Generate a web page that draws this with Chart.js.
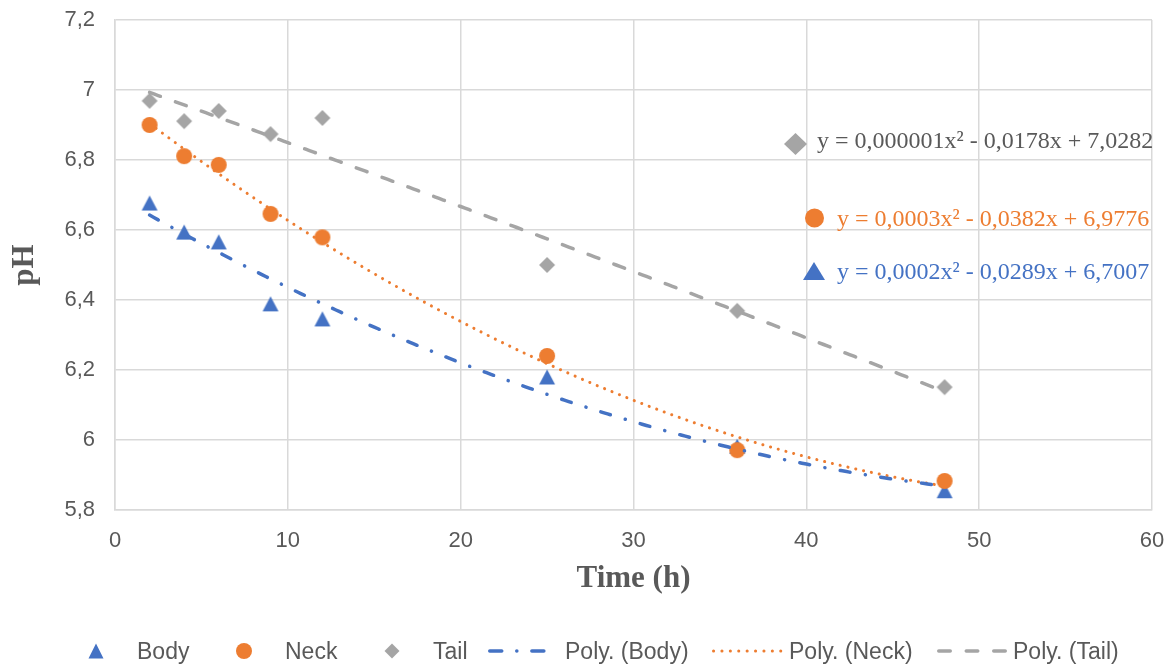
<!DOCTYPE html>
<html>
<head>
<meta charset="utf-8">
<script src="https://cdn.jsdelivr.net/npm/chart.js@4.4.1/dist/chart.umd.min.js"></script>
<style>
  html, body { margin: 0; padding: 0; background: #ffffff; }
  #wrap { width: 1172px; height: 668px; position: relative; }
</style>
</head>
<body>
<div id="wrap"><canvas id="chart" width="1172" height="668"></canvas></div>
<script>
// Sampling times (hours) and measured pH for each body region
const timeH  = [2, 4, 6, 9, 12, 25, 36, 48];
const phBody = [6.677, 6.594, 6.566, 6.389, 6.346, 6.180, 5.982, 5.855];
const phNeck = [6.900, 6.811, 6.786, 6.646, 6.579, 6.240, 5.971, 5.883];
const phTail = [6.969, 6.911, 6.940, 6.874, 6.920, 6.500, 6.369, 6.151];

const seriesNames = ['Body', 'Neck', 'Tail'];
const trendNames = ['Poly. (Body)', 'Poly. (Neck)', 'Poly. (Tail)'];
const equationTexts = [
  'y = 0,000001x\u00B2 - 0,0178x + 7,0282',
  'y = 0,0003x\u00B2 - 0,0382x + 6,9776',
  'y = 0,0002x\u00B2 - 0,0289x + 6,7007'
];
const xTickLabels = ['0', '10', '20', '30', '40', '50', '60'];
const yTickLabels = ['5,8', '6', '6,2', '6,4', '6,6', '6,8', '7', '7,2'];

const BLUE = '#4472C4', ORANGE = '#ED7D31', GRAY = '#A5A5A5';
const TEXT = '#595959', GRID = '#D9D9D9';
const SANS = '"Liberation Sans", Arial, sans-serif';
const SERIF = '"Liberation Serif", "Times New Roman", serif';

// Least-squares quadratic fit y = a x^2 + b x + c
function polyfit2(xs, ys) {
  let s0 = 0, s1 = 0, s2 = 0, s3 = 0, s4 = 0, t0 = 0, t1 = 0, t2 = 0;
  for (let i = 0; i < xs.length; i++) {
    const x = xs[i], y = ys[i], x2 = x * x;
    s0 += 1; s1 += x; s2 += x2; s3 += x2 * x; s4 += x2 * x2;
    t0 += y; t1 += x * y; t2 += x2 * y;
  }
  const M = [[s4, s3, s2, t2], [s3, s2, s1, t1], [s2, s1, s0, t0]];
  for (let k = 0; k < 3; k++) {
    for (let r = k + 1; r < 3; r++) {
      const f = M[r][k] / M[k][k];
      for (let c = k; c < 4; c++) M[r][c] -= f * M[k][c];
    }
  }
  const sol = [0, 0, 0];
  for (let r = 2; r >= 0; r--) {
    let v = M[r][3];
    for (let c = r + 1; c < 3; c++) v -= M[r][c] * sol[c];
    sol[r] = v / M[r][r];
  }
  return sol;
}

function trendPoints(xs, ys) {
  const [a, b, c] = polyfit2(xs, ys);
  const pts = [];
  const x0 = xs[0], x1 = xs[xs.length - 1];
  for (let x = x0; x <= x1 + 1e-9; x += 0.25) pts.push({ x: x, y: a * x * x + b * x + c });
  return pts;
}

function toPoints(xs, ys) { return xs.map((x, i) => ({ x: x, y: ys[i] })); }

function drawMarker(ctx, kind, cx, cy, w, h, color) {
  ctx.save();
  ctx.fillStyle = color;
  ctx.beginPath();
  if (kind === 'triangle') {
    ctx.moveTo(cx, cy - h / 2);
    ctx.lineTo(cx + w / 2, cy + h / 2);
    ctx.lineTo(cx - w / 2, cy + h / 2);
    ctx.closePath();
  } else if (kind === 'circle') {
    ctx.ellipse(cx, cy, w / 2, h / 2, 0, 0, Math.PI * 2);
  } else {
    ctx.moveTo(cx, cy - h / 2);
    ctx.lineTo(cx + w / 2, cy);
    ctx.lineTo(cx, cy + h / 2);
    ctx.lineTo(cx - w / 2, cy);
    ctx.closePath();
  }
  ctx.fill();
  ctx.restore();
}

function markerImage(kind, w, h, color) {
  const c = document.createElement('canvas');
  c.width = Math.ceil(w) + 2;
  c.height = Math.ceil(h) + 2;
  drawMarker(c.getContext('2d'), kind, c.width / 2, c.height / 2, w, h, color);
  return c;
}

const dashBody = [10, 15.5, 0.1, 15.5];
const dashNeck = [0.1, 7.9];
const dashTail = [11.5, 16];

// Legend row and trendline equation labels drawn on the canvas
const overlayPlugin = {
  id: 'overlay',
  afterDraw(chart) {
    const ctx = chart.ctx;
    const ly = 651;
    ctx.save();
    // legend
    drawMarker(ctx, 'triangle', 96, ly, 15, 15, BLUE);
    drawMarker(ctx, 'circle', 244, ly, 16, 16, ORANGE);
    drawMarker(ctx, 'diamond', 392, ly, 15, 15, GRAY);
    const sampleLine = (x0, x1, color, dash, width) => {
      ctx.save();
      ctx.strokeStyle = color;
      ctx.lineWidth = width;
      ctx.lineCap = 'round';
      ctx.setLineDash(dash);
      ctx.beginPath();
      ctx.moveTo(x0, ly);
      ctx.lineTo(x1, ly);
      ctx.stroke();
      ctx.restore();
    };
    sampleLine(489.75, 546.25, BLUE, [12, 15, 0.1, 15], 3.5);
    sampleLine(713.5, 781, ORANGE, [0.1, 8.3], 3);
    sampleLine(938.75, 1005.5, GRAY, [11.5, 16], 3.5);
    ctx.fillStyle = TEXT;
    ctx.font = '23px ' + SANS;
    ctx.textBaseline = 'alphabetic';
    ctx.textAlign = 'left';
    const legendTextX = [137, 285, 433, 565, 789, 1013];
    const legendTexts = seriesNames.concat(trendNames);
    legendTexts.forEach((t, i) => ctx.fillText(t, legendTextX[i], 659));

    // trendline equations
    ctx.font = '24px ' + SERIF;
    drawMarker(ctx, 'diamond', 795.5, 144, 23, 22, GRAY);
    ctx.fillStyle = TEXT;
    ctx.fillText(equationTexts[0], 817, 148);
    drawMarker(ctx, 'circle', 814.5, 218, 19, 19, ORANGE);
    ctx.fillStyle = ORANGE;
    ctx.fillText(equationTexts[1], 837, 226);
    drawMarker(ctx, 'triangle', 814, 271, 22, 18, BLUE);
    ctx.fillStyle = BLUE;
    ctx.fillText(equationTexts[2], 837, 279);
    ctx.restore();
  }
};

const datasets = [
  {
    label: trendNames[0], data: trendPoints(timeH, phBody), showLine: true,
    borderColor: BLUE, borderWidth: 3.5, borderDash: dashBody, borderCapStyle: 'round',
    pointRadius: 0, fill: false, tension: 0, order: 1
  },
  {
    label: trendNames[1], data: trendPoints(timeH, phNeck), showLine: true,
    borderColor: ORANGE, borderWidth: 3, borderDash: dashNeck, borderCapStyle: 'round',
    pointRadius: 0, fill: false, tension: 0, order: 2
  },
  {
    label: trendNames[2], data: trendPoints(timeH, phTail), showLine: true,
    borderColor: GRAY, borderWidth: 3.5, borderDash: dashTail, borderCapStyle: 'round',
    pointRadius: 0, fill: false, tension: 0, order: 3
  },
  {
    label: seriesNames[2], data: toPoints(timeH, phTail), showLine: false,
    pointStyle: markerImage('diamond', 16, 16, GRAY), pointRadius: 7, order: 4
  },
  {
    label: seriesNames[1], data: toPoints(timeH, phNeck), showLine: false,
    pointStyle: markerImage('circle', 16, 16, ORANGE), pointRadius: 7, order: 5
  },
  {
    label: seriesNames[0], data: toPoints(timeH, phBody), showLine: false,
    pointStyle: markerImage('triangle', 16, 15, BLUE), pointRadius: 7, order: 6
  }
];

new Chart(document.getElementById('chart'), {
  type: 'scatter',
  data: { datasets: datasets },
  plugins: [overlayPlugin],
  options: {
    responsive: false,
    animation: false,
    events: [],
    layout: { padding: { left: 0, right: 20, top: 20, bottom: 58 } },
    plugins: { legend: { display: false }, tooltip: { enabled: false } },
    scales: {
      x: {
        type: 'linear', min: 0, max: 60,
        afterFit: (s) => { s.height = 100; },
        ticks: {
          stepSize: 10, padding: 0, color: TEXT,
          font: { family: SANS, size: 22 },
          callback: (v, i) => xTickLabels[i]
        },
        grid: { color: GRID, lineWidth: 1.5, drawTicks: true, tickLength: 18, tickColor: 'rgba(0,0,0,0)' },
        border: { color: GRID, width: 1.5 },
        title: {
          display: true, text: 'Time (h)', color: TEXT,
          font: { family: SERIF, size: 31, weight: 'bold' },
          padding: { top: 0, bottom: 12.4 }
        }
      },
      y: {
        type: 'linear', min: 5.8, max: 7.2,
        afterFit: (s) => { s.width = 115; },
        ticks: {
          stepSize: 0.2, padding: 0, color: TEXT,
          font: { family: SANS, size: 22 },
          callback: (v, i) => yTickLabels[i]
        },
        grid: { color: GRID, lineWidth: 1.5, drawTicks: true, tickLength: 20, tickColor: 'rgba(0,0,0,0)' },
        border: { color: GRID, width: 1.5 },
        title: {
          display: true, text: 'pH', color: TEXT,
          font: { family: SERIF, size: 31, weight: 'bold' },
          padding: { top: 6.4, bottom: 0 }
        }
      }
    }
  }
});
</script>
</body>
</html>
